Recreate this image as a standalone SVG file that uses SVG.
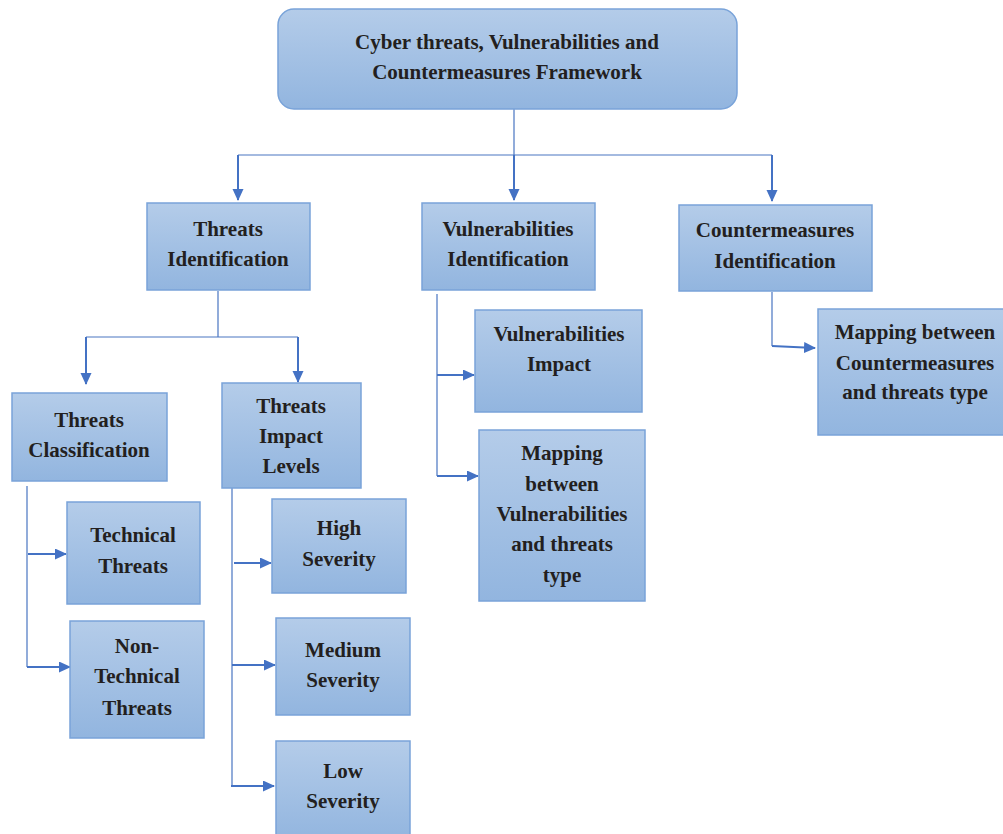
<svg xmlns="http://www.w3.org/2000/svg" width="1003" height="834" viewBox="0 0 1003 834">
<defs>
<linearGradient id="g" x1="0" y1="0" x2="0" y2="1">
<stop offset="0" stop-color="#b4cce9"/>
<stop offset="1" stop-color="#92b5df"/>
</linearGradient>
<marker id="ah" markerUnits="userSpaceOnUse" markerWidth="12" markerHeight="12" refX="11" refY="5.5" orient="auto">
<path d="M0,0 L12,5.5 L0,11 z" fill="#4472c4"/>
</marker>
<style>
.box{fill:url(#g);stroke:#79a3d9;stroke-width:1.5}
.t{font-family:"Liberation Serif","Times New Roman",serif;font-weight:bold;font-size:21px;fill:#231f20;text-anchor:middle}
.ln{fill:none;stroke:#4a76c2;stroke-width:1.2}
.ar{fill:none;stroke:#4472c4;stroke-width:2;marker-end:url(#ah)}
</style>
</defs>
<rect width="1003" height="834" fill="#ffffff"/>
<g id="connectors">
<path class="ln" d="M514,109 V155 M238,155 H772 M218,291 V337 M86,337 H298 M27,486 V667 M232,483 V786 M437,294 V476 M772,292 V346"/>
<path class="ar" d="M238,155 V200"/>
<path class="ar" d="M514,155 V200"/>
<path class="ar" d="M772,155 V201"/>
<path class="ar" d="M86,337 V384"/>
<path class="ar" d="M298,337 V382"/>
<path class="ar" d="M28,554 H66"/>
<path class="ar" d="M27,667 H70"/>
<path class="ar" d="M234,563 H271"/>
<path class="ar" d="M232,665 H275"/>
<path class="ar" d="M231,786 H274"/>
<path class="ar" d="M437,375 H474"/>
<path class="ar" d="M437,476 H478"/>
<path class="ar" d="M772,346 L815,348"/>
</g>
<g id="framework">
<rect class="box" x="278" y="9" width="459" height="100" rx="16"/>
<text class="t" x="507" y="49">Cyber threats, Vulnerabilities and</text>
<text class="t" x="507" y="79">Countermeasures Framework</text>
</g>
<g id="threats-identification">
<rect class="box" x="147" y="203" width="163" height="87"/>
<text class="t" x="228" y="236">Threats</text>
<text class="t" x="228" y="266">Identification</text>
</g>
<g id="vulnerabilities-identification">
<rect class="box" x="422" y="203" width="173" height="87"/>
<text class="t" x="508" y="236">Vulnerabilities</text>
<text class="t" x="508" y="266">Identification</text>
</g>
<g id="countermeasures-identification">
<rect class="box" x="679" y="205" width="193" height="86"/>
<text class="t" x="775" y="237">Countermeasures</text>
<text class="t" x="775" y="268">Identification</text>
</g>
<g id="threats-classification">
<rect class="box" x="12" y="393" width="155" height="88"/>
<text class="t" x="89" y="427">Threats</text>
<text class="t" x="89" y="457">Classification</text>
</g>
<g id="threats-impact-levels">
<rect class="box" x="222" y="383" width="139" height="105"/>
<text class="t" x="291" y="413">Threats</text>
<text class="t" x="291" y="443">Impact</text>
<text class="t" x="291" y="473">Levels</text>
</g>
<g id="technical-threats">
<rect class="box" x="67" y="502" width="133" height="102"/>
<text class="t" x="133" y="542">Technical</text>
<text class="t" x="133" y="573">Threats</text>
</g>
<g id="non-technical-threats">
<rect class="box" x="70" y="621" width="134" height="117"/>
<text class="t" x="137" y="653">Non-</text>
<text class="t" x="137" y="683">Technical</text>
<text class="t" x="137" y="715">Threats</text>
</g>
<g id="high-severity">
<rect class="box" x="272" y="499" width="134" height="94"/>
<text class="t" x="339" y="535">High</text>
<text class="t" x="339" y="566">Severity</text>
</g>
<g id="medium-severity">
<rect class="box" x="276" y="618" width="134" height="97"/>
<text class="t" x="343" y="657">Medium</text>
<text class="t" x="343" y="687">Severity</text>
</g>
<g id="low-severity">
<rect class="box" x="276" y="741" width="134" height="100"/>
<text class="t" x="343" y="778">Low</text>
<text class="t" x="343" y="808">Severity</text>
</g>
<g id="vulnerabilities-impact">
<rect class="box" x="475" y="310" width="167" height="102"/>
<text class="t" x="559" y="341">Vulnerabilities</text>
<text class="t" x="559" y="371">Impact</text>
</g>
<g id="mapping-vulnerabilities">
<rect class="box" x="479" y="430" width="166" height="171"/>
<text class="t" x="562" y="460">Mapping</text>
<text class="t" x="562" y="491">between</text>
<text class="t" x="562" y="521">Vulnerabilities</text>
<text class="t" x="562" y="551">and threats</text>
<text class="t" x="562" y="582">type</text>
</g>
<g id="mapping-countermeasures">
<rect class="box" x="818" y="309" width="190" height="126"/>
<text class="t" x="915" y="339">Mapping between</text>
<text class="t" x="915" y="370">Countermeasures</text>
<text class="t" x="915" y="399">and threats type</text>
</g>
</svg>
